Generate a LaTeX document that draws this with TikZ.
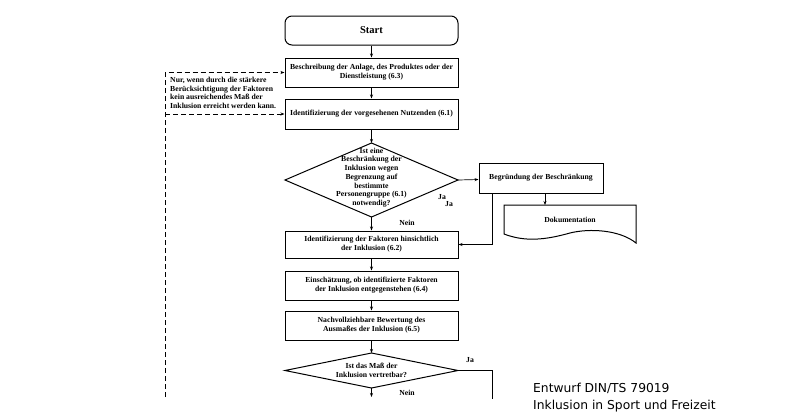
\documentclass[tikz,border=0pt]{standalone}
\usepackage{fontspec}
\setmainfont{Liberation Serif}
\newfontfamily\capfont{DejaVu Sans}
\usetikzlibrary{arrows.meta}
\begin{document}
\begin{tikzpicture}[x=1pt,y=-1pt,
  box/.style={draw,line width=1pt,minimum width=173pt,inner sep=1pt,align=center,font=\bfseries\fontsize{7.7}{8.8}\selectfont},
  lbl/.style={font=\bfseries\fontsize{7.7}{8.7}\selectfont,inner sep=0pt},
  arr/.style={-{Stealth[length=4pt,width=3pt]},line width=0.7pt},
  darr/.style={-{Stealth[length=4pt,width=3pt]},line width=0.7pt,dash pattern=on 5pt off 3pt},
  flow/.style={line width=0.7pt}]
\useasboundingbox[fill=white] (0,0) rectangle (800,418);
% nodes
\node[box,rounded corners=7pt,minimum height=29pt,font=\bfseries\fontsize{10.5}{12}\selectfont] (start) at (371.5,30.5) {Start};
\node[box,minimum height=29pt] (b1) at (371.5,72.5) {Beschreibung der Anlage, des Produktes oder der\\Dienstleistung (6.3)};
\node[box,minimum height=30pt] (b2) at (371.5,114) {Identifizierung der vorgesehenen Nutzenden (6.1)};
% diamond 1
\coordinate (d1t) at (371.5,143);
\coordinate (d1b) at (371.5,217);
\coordinate (d1l) at (285,180);
\coordinate (d1r) at (458,180);
\draw[line width=1pt] (d1t) -- (d1r) -- (d1b) -- (d1l) -- cycle;
\node[lbl,align=center] (d1) at (371.5,177.5) {Ist eine\\Beschränkung der\\Inklusion wegen\\Begrenzung auf\\bestimmte\\Personengruppe (6.1)\\notwendig?};
\node[box,minimum width=124pt,minimum height=30pt] (b3) at (541,178) {Begründung der Beschränkung};
% document shape
\coordinate (doct) at (545,205);
\draw[line width=1pt] (504,205) -- (636,205) -- (636,243)
  .. controls (620,230) and (590,228) .. (570,233)
  .. controls (545,240) and (525,242) .. (504,234) -- cycle;
\node[lbl] (doc) at (570,220) {Dokumentation};
\node[box,minimum height=27pt] (b4) at (371.5,244.5) {Identifizierung der Faktoren hinsichtlich\\der Inklusion (6.2)};
\node[box,minimum height=29pt] (b5) at (371.5,285.5) {Einschätzung, ob identifizierte Faktoren\\der Inklusion entgegenstehen (6.4)};
\node[box,minimum height=29pt] (b6) at (371.5,325.5) {Nachvollziehbare Bewertung des\\Ausmaßes der Inklusion (6.5)};
% diamond 2
\coordinate (d2t) at (371.5,353);
\coordinate (d2b) at (371.5,388);
\coordinate (d2l) at (285,370.5);
\coordinate (d2r) at (458,370.5);
\draw[line width=1pt] (d2t) -- (d2r) -- (d2b) -- (d2l) -- cycle;
\node[lbl,align=center] (d2) at (371.5,370) {Ist das Maß der\\Inklusion vertretbar?};
% labels
\node[lbl] (ja1) at (442,197) {Ja};
\node[lbl] (ja2) at (449,204.5) {Ja};
\node[lbl] (nein1) at (407,223) {Nein};
\node[lbl] (ja3) at (470,360) {Ja};
\node[lbl] (nein2) at (407,393) {Nein};
\node[lbl,align=left,anchor=north west] (note) at (170,77) {Nur, wenn durch die stärkere\\Berücksichtigung der Faktoren\\kein ausreichendes Maß der\\Inklusion erreicht werden kann.};
\node[anchor=north west,align=left,inner sep=0pt,font=\capfont\fontsize{12.3}{17}\selectfont] (cap) at (533,383) {Entwurf DIN/TS 79019\\Inklusion in Sport und Freizeit};
% connectors
\coordinate (e1) at (371.5,397);
\coordinate (e2) at (492,399);
\coordinate (dl) at (165,397);
\coordinate (b3a) at (492,193);
\draw[arr] (start) -- (b1);
\draw[arr] (b1) -- (b2);
\draw[arr] (b2) -- (d1t);
\draw[arr] (d1b) -- (b4);
\draw[arr] (b4) -- (b5);
\draw[arr] (b5) -- (b6);
\draw[arr] (b6) -- (d2t);
\draw[arr] (d2b) -- (e1);
\draw[arr] (d1r) -- (b3);
\draw[arr] (b3.south -| doct) -- (doct);
\draw[arr] (b3a) |- (b4.east);
\draw[flow] (d2r) -| (e2);
\draw[darr] (dl) |- (b1.west);
\draw[darr] (dl |- b2.west) -- (b2.west);
\end{tikzpicture}
\end{document}
